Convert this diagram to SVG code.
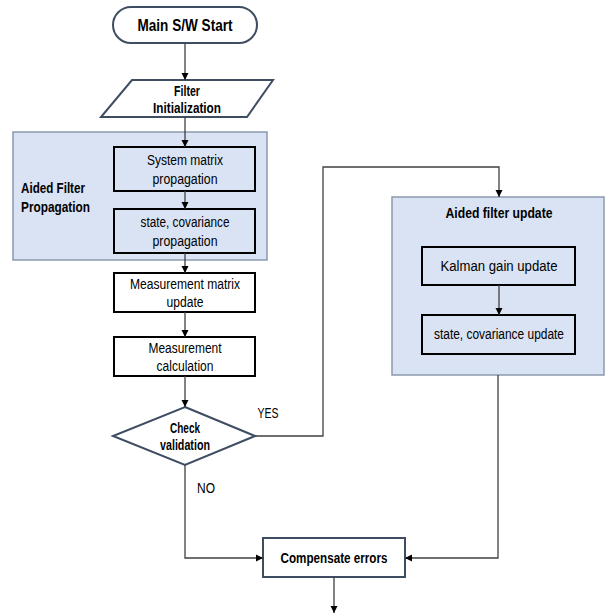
<svg xmlns="http://www.w3.org/2000/svg" width="606" height="615" viewBox="0 0 606 615">
<defs>
<marker id="ah" markerWidth="8" markerHeight="8" refX="7" refY="4" orient="auto" markerUnits="userSpaceOnUse">
<path d="M0,0.5 L7,4 L0,7.5 Z" fill="#000"/>
</marker>
<style>
text{font-family:"Liberation Sans",Arial,sans-serif;fill:#000;text-anchor:middle}
.b{font-weight:bold;font-size:15px}
.r{font-size:15.5px}
.grp{fill:#dae3f3;stroke:#8a99b0;stroke-width:1.5}
.inner{fill:none;stroke:#000;stroke-width:2}
.slate{fill:#fff;stroke:#3f4d63;stroke-width:2}
.conn{fill:none;stroke:#404040;stroke-width:1.3}
</style>
</defs>
<rect width="606" height="615" fill="#fff"/>

<g id="start">
<rect x="113" y="7" width="144" height="36" rx="18" class="slate"/>
<text x="185" y="31" class="b" style="font-size:17px" textLength="95" lengthAdjust="spacingAndGlyphs">Main S/W Start</text>
</g>

<g id="init">
<polygon points="132,80 273,80 247,117 101,117" class="slate"/>
<text x="187" y="96" class="b" textLength="26" lengthAdjust="spacingAndGlyphs">Filter</text>
<text x="187" y="113" class="b" textLength="68" lengthAdjust="spacingAndGlyphs">Initialization</text>
</g>

<g id="prop-group">
<rect x="13" y="132" width="254" height="128" class="grp"/>
<text x="21" y="193" class="b" style="text-anchor:start" textLength="64" lengthAdjust="spacingAndGlyphs">Aided Filter</text>
<text x="21" y="212" class="b" style="text-anchor:start" textLength="69" lengthAdjust="spacingAndGlyphs">Propagation</text>
</g>

<g id="sysmat">
<rect x="114" y="147" width="141" height="44" class="inner"/>
<text x="185" y="165" class="r" textLength="76" lengthAdjust="spacingAndGlyphs">System matrix</text>
<text x="185" y="184" class="r" textLength="65" lengthAdjust="spacingAndGlyphs">propagation</text>
</g>

<g id="stateprop">
<rect x="114" y="209" width="141" height="44" class="inner"/>
<text x="185" y="227" class="r" textLength="89" lengthAdjust="spacingAndGlyphs">state, covariance</text>
<text x="185" y="246" class="r" textLength="65" lengthAdjust="spacingAndGlyphs">propagation</text>
</g>

<g id="measmat">
<rect x="114" y="273" width="141" height="39" class="inner" style="fill:#fff"/>
<text x="185" y="289" class="r" textLength="110" lengthAdjust="spacingAndGlyphs">Measurement matrix</text>
<text x="185" y="307" class="r" textLength="37" lengthAdjust="spacingAndGlyphs">update</text>
</g>

<g id="meascalc">
<rect x="114" y="337" width="141" height="39" class="inner" style="fill:#fff"/>
<text x="185" y="353" class="r" textLength="73" lengthAdjust="spacingAndGlyphs">Measurement</text>
<text x="185" y="371" class="r" textLength="57" lengthAdjust="spacingAndGlyphs">calculation</text>
</g>

<g id="check">
<polygon points="185,407 255,436 185,465 113,436" class="slate"/>
<text x="185" y="433" class="b" style="font-size:14.5px" textLength="30" lengthAdjust="spacingAndGlyphs">Check</text>
<text x="185" y="450" class="b" style="font-size:14.5px" textLength="50" lengthAdjust="spacingAndGlyphs">validation</text>
</g>

<g id="update-group">
<rect x="392" y="197" width="212" height="178" class="grp"/>
<text x="499" y="218" class="b" textLength="107" lengthAdjust="spacingAndGlyphs">Aided filter update</text>
</g>

<g id="kalman">
<rect x="422" y="247" width="153" height="38" class="inner"/>
<text x="499" y="271" class="r" textLength="117" lengthAdjust="spacingAndGlyphs">Kalman gain update</text>
</g>

<g id="stateupd">
<rect x="422" y="315" width="153" height="39" class="inner"/>
<text x="499" y="339" class="r" textLength="130" lengthAdjust="spacingAndGlyphs">state, covariance update</text>
</g>

<g id="compensate">
<rect x="263" y="538" width="142" height="39" class="slate"/>
<text x="334" y="563" class="b" textLength="107" lengthAdjust="spacingAndGlyphs">Compensate errors</text>
</g>

<g id="connectors">
<line x1="185" y1="43" x2="185" y2="80" class="conn" marker-end="url(#ah)"/>
<line x1="185" y1="117" x2="185" y2="147" class="conn" marker-end="url(#ah)"/>
<line x1="185" y1="191" x2="185" y2="209" class="conn" marker-end="url(#ah)"/>
<line x1="185" y1="253" x2="185" y2="273" class="conn" marker-end="url(#ah)"/>
<line x1="185" y1="312" x2="185" y2="337" class="conn" marker-end="url(#ah)"/>
<line x1="185" y1="376" x2="185" y2="407" class="conn" marker-end="url(#ah)"/>
<polyline points="255,436 323,436 323,167 499,167 499,197" class="conn" marker-end="url(#ah)"/>
<line x1="499" y1="285" x2="499" y2="315" class="conn" marker-end="url(#ah)"/>
<polyline points="185,465 185,558 263,558" class="conn" marker-end="url(#ah)"/>
<polyline points="498,375 498,558 405,558" class="conn" marker-end="url(#ah)"/>
<line x1="334" y1="577" x2="334" y2="613" class="conn" marker-end="url(#ah)"/>
<text x="268" y="418" style="font-size:15px" textLength="21" lengthAdjust="spacingAndGlyphs">YES</text>
<text x="206" y="493" style="font-size:15px" textLength="18" lengthAdjust="spacingAndGlyphs">NO</text>
</g>
</svg>
